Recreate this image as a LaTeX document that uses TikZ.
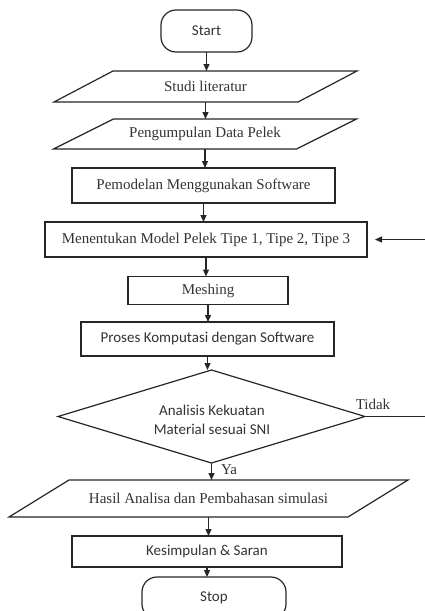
\documentclass[tikz,border=0pt]{standalone}
\usepackage{fontspec}
\setmainfont{Liberation Serif}
\newfontfamily\calfont{Carlito}
\usetikzlibrary{shapes.geometric,arrows.meta}
\definecolor{ink}{gray}{0.15}
\definecolor{txt}{gray}{0.2}
\begin{document}
\begin{tikzpicture}[x=1pt,y=-1pt,
  every node/.style={inner sep=0pt, outer sep=0pt, text=txt, font=\fontsize{15}{19}\selectfont},
  sans/.style={font=\calfont\fontsize{15}{19}\selectfont},
  box/.style={draw=ink, line width=1.2pt, rectangle},
  term/.style={draw=ink, line width=1.2pt, rectangle, rounded corners=15pt, sans},
  iobox/.style={rectangle, draw=none},
  dec/.style={diamond, draw=ink, line width=1.2pt, aspect=3.3},
  arr/.style={draw=ink, line width=1.2pt, -{Triangle[length=7pt,width=6pt]}},
  plain/.style={draw=ink, line width=1.2pt}
]
\useasboundingbox (0,0) rectangle (425,611);
\newcommand\para[2]{%
  \draw[plain] ([xshift=#2]#1.north west) -- ([xshift=#2]#1.north east)
    -- ([xshift=-#2]#1.south east) -- ([xshift=-#2]#1.south west) -- cycle;}

\node[term, minimum width=91pt, minimum height=42pt] (start) at (206.5,31) {Start};

\node[iobox, minimum width=244pt, minimum height=31pt] (studi) at (205.5,86.5) {Studi literatur};
\para{studi}{29.5pt}

\node[iobox, minimum width=243pt, minimum height=30pt] (peng) at (205,134) {Pengumpulan Data Pelek};
\para{peng}{30pt}

\node[box, minimum width=263pt, minimum height=35pt] (pemod) at (203.5,185.5) {Pemodelan Menggunakan Software};

\node[box, minimum width=322pt, minimum height=35pt] (tentu) at (206,239.5) {Menentukan Model Pelek Tipe 1, Tipe 2, Tipe 3};

\node[box, minimum width=160pt, minimum height=28pt] (mesh) at (208,290.5) {Meshing};

\node[box, minimum width=253pt, minimum height=34pt, sans] (proses) at (207.5,339) {Proses Komputasi dengan Software};

\node[dec, minimum width=307pt, minimum height=93pt] (analisis) at (211.5,416.5) {};
\node[sans, align=center] (antext) at (212,420) {Analisis Kekuatan\\Material sesuai SNI};

\node[iobox, minimum width=339pt, minimum height=37pt] (hasil) at (208.5,498.5) {Hasil Analisa dan Pembahasan simulasi};
\para{hasil}{30pt}

\node[box, minimum width=270pt, minimum height=31pt, sans] (simpul) at (207,551.5) {Kesimpulan \& Saran};

\node[term, minimum width=144pt, minimum height=42pt] (stop) at (214,598) {Stop};

\node (tidak) at (373,404) {Tidak};
\node (ya) at (229,470) {Ya};

\coordinate (inR) at (425,239.5);
\coordinate (outR) at (425,416.5);

\draw[arr] (start.south) -- (start.south |- studi.north);
\draw[arr] (studi.south) -- (studi.south |- peng.north);
\draw[arr] (peng.south) -- (peng.south |- pemod.north);
\draw[arr] (pemod.south) -- (pemod.south |- tentu.north);
\draw[arr] (tentu.south) -- (tentu.south |- mesh.north);
\draw[arr] (mesh.south) -- (mesh.south |- proses.north);
\draw[arr] (proses.south) -- (proses.south |- analisis.north);
\draw[arr] (analisis.south) -- (analisis.south |- hasil.north);
\draw[arr] (hasil.south) -- (hasil.south |- simpul.north);
\draw[arr] (simpul.south) -- (simpul.south |- stop.north);
\draw[arr] (inR) -- ([xshift=8pt]tentu.east);
\draw[plain] (analisis.east) -- (outR);
\end{tikzpicture}
\end{document}
